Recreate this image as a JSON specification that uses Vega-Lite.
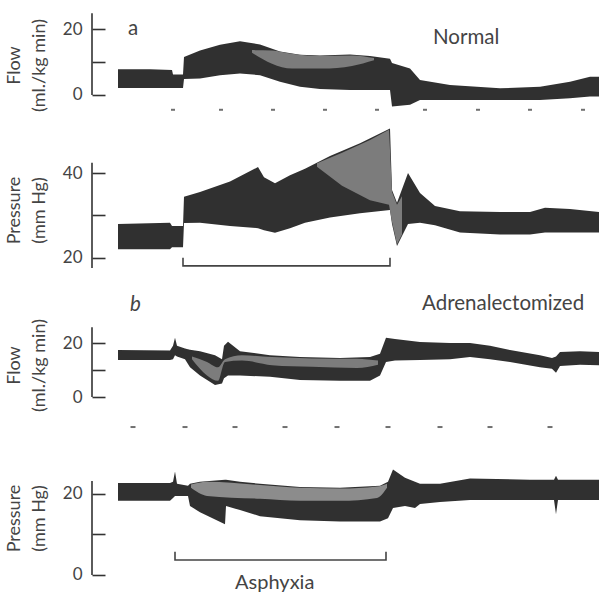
{
  "$schema": "https://vega.github.io/schema/vega-lite/v6.json",
  "background": "white",
  "padding": {"left": 5, "top": 0, "right": 0, "bottom": 0},
  "spacing": 0,
  "config": {
    "view": {"stroke": null},
    "concat": {"spacing": 0},
    "axis": {
      "domain": false, "grid": false, "tickSize": -13, "tickWidth": 1.6, "tickColor": "#333",
      "labelFont": "Lato", "labelFontSize": 17, "labelColor": "#444", "labelPadding": 23,
      "titleFont": "Lato", "titleFontSize": 18, "titleColor": "#444", "titleFontWeight": "normal",
      "titleLineHeight": 25, "titlePadding": 14
    },
    "text": {"font": "Lato", "color": "#444"}
  },
  "datasets": {
    "flowA": [
      {"t":26,"lo":2.1,"hi":7.8},{"t":58,"lo":2.1,"hi":7.8},{"t":80,"lo":2.1,"hi":7.6},{"t":81,"lo":2.1,"hi":6.2},
      {"t":91,"lo":2.1,"hi":6.2},{"t":92,"lo":4.8,"hi":11.5},{"t":108,"lo":5,"hi":13.5},{"t":128,"lo":6,"hi":15.2},
      {"t":148,"lo":6.5,"hi":16.3},{"t":168,"lo":6,"hi":15.3},{"t":188,"lo":4,"hi":13.2},{"t":208,"lo":2.5,"hi":12.2},
      {"t":228,"lo":1.8,"hi":12},{"t":258,"lo":1.5,"hi":12.3},{"t":278,"lo":1.5,"hi":11.8},{"t":298,"lo":1.5,"hi":11},
      {"t":300,"lo":-3.5,"hi":9.7},{"t":318,"lo":-3,"hi":8},{"t":328,"lo":-1.5,"hi":4.5},{"t":358,"lo":-1.5,"hi":3},
      {"t":408,"lo":-1.5,"hi":2},{"t":448,"lo":-1.5,"hi":2.5},{"t":478,"lo":-1,"hi":4},{"t":498,"lo":-0.5,"hi":5.5},
      {"t":507,"lo":-0.5,"hi":5.5}
    ],
    "flowALight": [
      {"t":160,"lo":12.8,"hi":13.6},{"t":180,"lo":9.5,"hi":13.5},{"t":200,"lo":8,"hi":12.5},{"t":230,"lo":8,"hi":11.8},
      {"t":260,"lo":8.8,"hi":12},{"t":282,"lo":10.5,"hi":11.2}
    ],
    "marksA": [
      {"t":81,"v":-4.5},{"t":129,"v":-4.5},{"t":181,"v":-4.5},{"t":233,"v":-4.5},{"t":285,"v":-4.5},
      {"t":333,"v":-4.5},{"t":386,"v":-4.5},{"t":438,"v":-4.5},{"t":491,"v":-4.5}
    ],
    "presA": [
      {"t":26,"lo":22,"hi":28},{"t":78,"lo":22,"hi":28.3},{"t":80,"lo":22.5,"hi":27.5},{"t":91,"lo":22.5,"hi":27.5},
      {"t":92,"lo":28.2,"hi":34.4},{"t":108,"lo":28.3,"hi":35.5},{"t":138,"lo":27.5,"hi":38},{"t":166,"lo":27,"hi":41.4},
      {"t":172,"lo":26.5,"hi":39},{"t":183,"lo":25.9,"hi":37.6},{"t":198,"lo":27,"hi":39.5},{"t":213,"lo":28.3,"hi":41},
      {"t":238,"lo":29.5,"hi":44},{"t":268,"lo":30.5,"hi":47},{"t":298,"lo":31.3,"hi":50.5},{"t":300,"lo":28,"hi":36},
      {"t":305,"lo":22.8,"hi":33},{"t":316,"lo":28,"hi":40},{"t":328,"lo":28.3,"hi":35.3},{"t":343,"lo":27.7,"hi":32.2},
      {"t":368,"lo":26,"hi":31},{"t":408,"lo":25.5,"hi":30.8},{"t":438,"lo":25.5,"hi":30.8},{"t":453,"lo":26,"hi":31.8},
      {"t":478,"lo":26,"hi":31.5},{"t":507,"lo":26,"hi":30.8}
    ],
    "presALight": [
      {"t":225,"lo":41.5,"hi":42.3},{"t":250,"lo":37,"hi":44.8},{"t":278,"lo":33.6,"hi":47.8},{"t":297,"lo":32.5,"hi":50.2},
      {"t":300,"lo":28.5,"hi":35.5},{"t":305,"lo":23.2,"hi":32.5},{"t":310,"lo":25.5,"hi":34.5}
    ],
    "bracketA": [
      {"t":91,"v":20,"k":0},{"t":91,"v":18.1,"k":1},{"t":298,"v":18.1,"k":2},{"t":298,"v":20,"k":3}
    ],
    "flowB": [
      {"t":26,"lo":13.7,"hi":17.4},{"t":78,"lo":13.7,"hi":17.2},{"t":81,"lo":14,"hi":19},{"t":83,"lo":15.5,"hi":22},
      {"t":85,"lo":15,"hi":19},{"t":93,"lo":14,"hi":18},{"t":98,"lo":11,"hi":17.5},{"t":108,"lo":8,"hi":17},
      {"t":123,"lo":4.5,"hi":15.5},{"t":130,"lo":5,"hi":14},{"t":132,"lo":7,"hi":19},{"t":136,"lo":8,"hi":20.5},
      {"t":148,"lo":8,"hi":17},{"t":178,"lo":7.5,"hi":15.5},{"t":208,"lo":6.3,"hi":14.8},{"t":248,"lo":6,"hi":14.5},
      {"t":278,"lo":6,"hi":14.8},{"t":288,"lo":8,"hi":16},{"t":294,"lo":13,"hi":22},{"t":303,"lo":13.5,"hi":21.5},
      {"t":328,"lo":13.7,"hi":20.4},{"t":358,"lo":14,"hi":20},{"t":378,"lo":14.8,"hi":20},{"t":398,"lo":14,"hi":19},
      {"t":418,"lo":13,"hi":17.4},{"t":448,"lo":11,"hi":15.5},{"t":460,"lo":10.5,"hi":14.5},{"t":464,"lo":9,"hi":15},
      {"t":468,"lo":11.5,"hi":16.7},{"t":488,"lo":12,"hi":17},{"t":507,"lo":11.8,"hi":16.7}
    ],
    "flowBLight": [
      {"t":100,"lo":14,"hi":15},{"t":115,"lo":8,"hi":13},{"t":126,"lo":6,"hi":11},{"t":133,"lo":13,"hi":14},
      {"t":150,"lo":13.5,"hi":15.5},{"t":180,"lo":11.8,"hi":14.8},{"t":220,"lo":11.2,"hi":14.3},{"t":265,"lo":10.8,"hi":14.2},
      {"t":286,"lo":12,"hi":13.5}
    ],
    "marksB": [
      {"t":41,"v":-11.1},{"t":93,"v":-11.1},{"t":143,"v":-11.1},{"t":193,"v":-11.1},{"t":245,"v":-11.1},
      {"t":296,"v":-11.1},{"t":348,"v":-11.1},{"t":398,"v":-11.1},{"t":458,"v":-11.1}
    ],
    "presB": [
      {"t":26,"lo":18.3,"hi":22.7},{"t":78,"lo":18.3,"hi":22.7},{"t":81,"lo":19,"hi":23},{"t":83,"lo":19.5,"hi":25.5},
      {"t":85,"lo":19.5,"hi":22.5},{"t":96,"lo":19.5,"hi":22},{"t":98,"lo":17,"hi":22.5},{"t":108,"lo":15.5,"hi":23},
      {"t":133,"lo":12.5,"hi":23.5},{"t":134,"lo":17,"hi":23.5},{"t":148,"lo":16,"hi":23},{"t":168,"lo":14.5,"hi":22.5},
      {"t":208,"lo":13.5,"hi":21.7},{"t":248,"lo":13.2,"hi":21.5},{"t":288,"lo":13.2,"hi":22},{"t":296,"lo":14,"hi":23},
      {"t":301,"lo":16.5,"hi":26},{"t":313,"lo":17,"hi":24},{"t":323,"lo":16.5,"hi":23},{"t":328,"lo":17.5,"hi":22.5},
      {"t":348,"lo":18,"hi":22.5},{"t":378,"lo":18.5,"hi":23.8},{"t":438,"lo":18.5,"hi":23.5},{"t":462,"lo":18.5,"hi":23.5},
      {"t":464,"lo":15,"hi":24.5},{"t":466,"lo":18.5,"hi":23.5},{"t":507,"lo":18.5,"hi":23.5}
    ],
    "presBLight": [
      {"t":99,"lo":21.5,"hi":22.3},{"t":115,"lo":19.5,"hi":23},{"t":168,"lo":18.8,"hi":22.2},{"t":208,"lo":18.3,"hi":21.5},
      {"t":248,"lo":18.3,"hi":21.3},{"t":285,"lo":19,"hi":21.8},{"t":295,"lo":21.5,"hi":22.5}
    ],
    "bracketB": [
      {"t":83,"v":5.7,"k":0},{"t":83,"v":3.7,"k":1},{"t":294,"v":3.7,"k":2},{"t":294,"v":5.7,"k":3}
    ]
  },
  "vconcat": [
    {
      "width": 507, "height": 120,
      "layer": [
        {
          "data": {"name": "flowA"},
          "mark": {"type": "area", "color": "#303030", "interpolate": "linear"},
          "encoding": {
            "x": {"field": "t", "type": "quantitative", "axis": null, "scale": {"domain": [0, 507], "nice": false}},
            "y": {"field": "lo", "type": "quantitative", "scale": {"domain": [-7.6, 28.8], "nice": false, "zero": false},
                  "axis": {"title": ["Flow", "(ml./kg min)"], "values": [0, 10, 20], "labelExpr": "datum.value == 10 ? '' : datum.label", "titleY": 65}},
            "y2": {"field": "hi"}
          }
        },
        {
          "data": {"name": "flowALight"},
          "mark": {"type": "area", "color": "#7c7c7c", "interpolate": "monotone"},
          "encoding": {"x": {"field": "t", "type": "quantitative"}, "y": {"field": "lo", "type": "quantitative"}, "y2": {"field": "hi"}}
        },
        {
          "data": {"values": [{"t": 0, "v": 0, "v2": 24.8}]},
          "mark": {"type": "rule", "color": "#333", "strokeWidth": 1.6},
          "encoding": {"x": {"field": "t", "type": "quantitative"}, "y": {"field": "v", "type": "quantitative"}, "y2": {"field": "v2"}}
        },
        {
          "data": {"name": "marksA"},
          "mark": {"type": "tick", "orient": "horizontal", "size": 4, "thickness": 2, "color": "#333"},
          "encoding": {"x": {"field": "t", "type": "quantitative"}, "y": {"field": "v", "type": "quantitative"}}
        },
        {
          "data": {"values": [{"t": 36, "v": 20, "label": "a"}, {"t": 341, "v": 17.3, "label": "Normal"}]},
          "mark": {"type": "text", "fontSize": 20.5, "align": "left", "baseline": "middle"},
          "encoding": {"x": {"field": "t", "type": "quantitative"}, "y": {"field": "v", "type": "quantitative"}, "text": {"field": "label"}}
        }
      ]
    },
    {
      "width": 507, "height": 165,
      "layer": [
        {
          "data": {"name": "presA"},
          "mark": {"type": "area", "color": "#303030", "interpolate": "linear"},
          "encoding": {
            "x": {"field": "t", "type": "quantitative", "axis": null, "scale": {"domain": [0, 507], "nice": false}},
            "y": {"field": "lo", "type": "quantitative", "scale": {"domain": [13.6, 52.5], "nice": false, "zero": false},
                  "axis": {"title": ["Pressure", "(mm Hg)"], "values": [20, 30, 40], "labelExpr": "datum.value == 30 ? '' : datum.label", "titleY": 90}},
            "y2": {"field": "hi"}
          }
        },
        {
          "data": {"name": "presALight"},
          "mark": {"type": "area", "color": "#7c7c7c", "interpolate": "linear"},
          "encoding": {"x": {"field": "t", "type": "quantitative"}, "y": {"field": "lo", "type": "quantitative"}, "y2": {"field": "hi"}}
        },
        {
          "data": {"values": [{"t": 0, "v": 17.6, "v2": 42.4}]},
          "mark": {"type": "rule", "color": "#333", "strokeWidth": 1.6},
          "encoding": {"x": {"field": "t", "type": "quantitative"}, "y": {"field": "v", "type": "quantitative"}, "y2": {"field": "v2"}}
        },
        {
          "data": {"name": "bracketA"},
          "mark": {"type": "line", "color": "#444", "strokeWidth": 1.6},
          "encoding": {"x": {"field": "t", "type": "quantitative"}, "y": {"field": "v", "type": "quantitative"}, "order": {"field": "k"}}
        }
      ]
    },
    {
      "width": 507, "height": 155,
      "layer": [
        {
          "data": {"name": "flowB"},
          "mark": {"type": "area", "color": "#303030", "interpolate": "linear"},
          "encoding": {
            "x": {"field": "t", "type": "quantitative", "axis": null, "scale": {"domain": [0, 507], "nice": false}},
            "y": {"field": "lo", "type": "quantitative", "scale": {"domain": [-15.9, 41.5], "nice": false, "zero": false},
                  "axis": {"title": ["Flow", "(ml./kg min)"], "values": [0, 10, 20], "labelExpr": "datum.value == 10 ? '' : datum.label", "titleY": 80}},
            "y2": {"field": "hi"}
          }
        },
        {
          "data": {"name": "flowBLight"},
          "mark": {"type": "area", "color": "#7c7c7c", "interpolate": "monotone"},
          "encoding": {"x": {"field": "t", "type": "quantitative"}, "y": {"field": "lo", "type": "quantitative"}, "y2": {"field": "hi"}}
        },
        {
          "data": {"values": [{"t": 0, "v": 0, "v2": 25.9}]},
          "mark": {"type": "rule", "color": "#333", "strokeWidth": 1.6},
          "encoding": {"x": {"field": "t", "type": "quantitative"}, "y": {"field": "v", "type": "quantitative"}, "y2": {"field": "v2"}}
        },
        {
          "data": {"name": "marksB"},
          "mark": {"type": "tick", "orient": "horizontal", "size": 5, "thickness": 2, "color": "#333"},
          "encoding": {"x": {"field": "t", "type": "quantitative"}, "y": {"field": "v", "type": "quantitative"}}
        },
        {
          "data": {"values": [{"t": 38, "v": 34, "label": "b"}]},
          "mark": {"type": "text", "fontSize": 20.5, "align": "left", "baseline": "middle", "fontStyle": "italic"},
          "encoding": {"x": {"field": "t", "type": "quantitative"}, "y": {"field": "v", "type": "quantitative"}, "text": {"field": "label"}}
        },
        {
          "data": {"values": [{"t": 330, "v": 34.4, "label": "Adrenalectomized"}]},
          "mark": {"type": "text", "fontSize": 20.5, "align": "left", "baseline": "middle"},
          "encoding": {"x": {"field": "t", "type": "quantitative"}, "y": {"field": "v", "type": "quantitative"}, "text": {"field": "label"}}
        }
      ]
    },
    {
      "width": 507, "height": 156,
      "layer": [
        {
          "data": {"name": "presB"},
          "mark": {"type": "area", "color": "#303030", "interpolate": "linear"},
          "encoding": {
            "x": {"field": "t", "type": "quantitative", "axis": null, "scale": {"domain": [0, 507], "nice": false}},
            "y": {"field": "lo", "type": "quantitative", "scale": {"domain": [-5.2, 33.3], "nice": false, "zero": false},
                  "axis": {"title": ["Pressure", "(mm Hg)"], "values": [0, 10, 20], "labelExpr": "datum.value == 10 ? '' : datum.label", "titleY": 78}},
            "y2": {"field": "hi"}
          }
        },
        {
          "data": {"name": "presBLight"},
          "mark": {"type": "area", "color": "#8c8c8c", "interpolate": "monotone"},
          "encoding": {"x": {"field": "t", "type": "quantitative"}, "y": {"field": "lo", "type": "quantitative"}, "y2": {"field": "hi"}}
        },
        {
          "data": {"values": [{"t": 0, "v": 0, "v2": 23.2}]},
          "mark": {"type": "rule", "color": "#333", "strokeWidth": 1.6},
          "encoding": {"x": {"field": "t", "type": "quantitative"}, "y": {"field": "v", "type": "quantitative"}, "y2": {"field": "v2"}}
        },
        {
          "data": {"name": "bracketB"},
          "mark": {"type": "line", "color": "#444", "strokeWidth": 1.6},
          "encoding": {"x": {"field": "t", "type": "quantitative"}, "y": {"field": "v", "type": "quantitative"}, "order": {"field": "k"}}
        },
        {
          "data": {"values": [{"t": 143, "v": -2, "label": "Asphyxia"}]},
          "mark": {"type": "text", "fontSize": 20, "align": "left", "baseline": "middle"},
          "encoding": {"x": {"field": "t", "type": "quantitative"}, "y": {"field": "v", "type": "quantitative"}, "text": {"field": "label"}}
        }
      ]
    }
  ]
}
